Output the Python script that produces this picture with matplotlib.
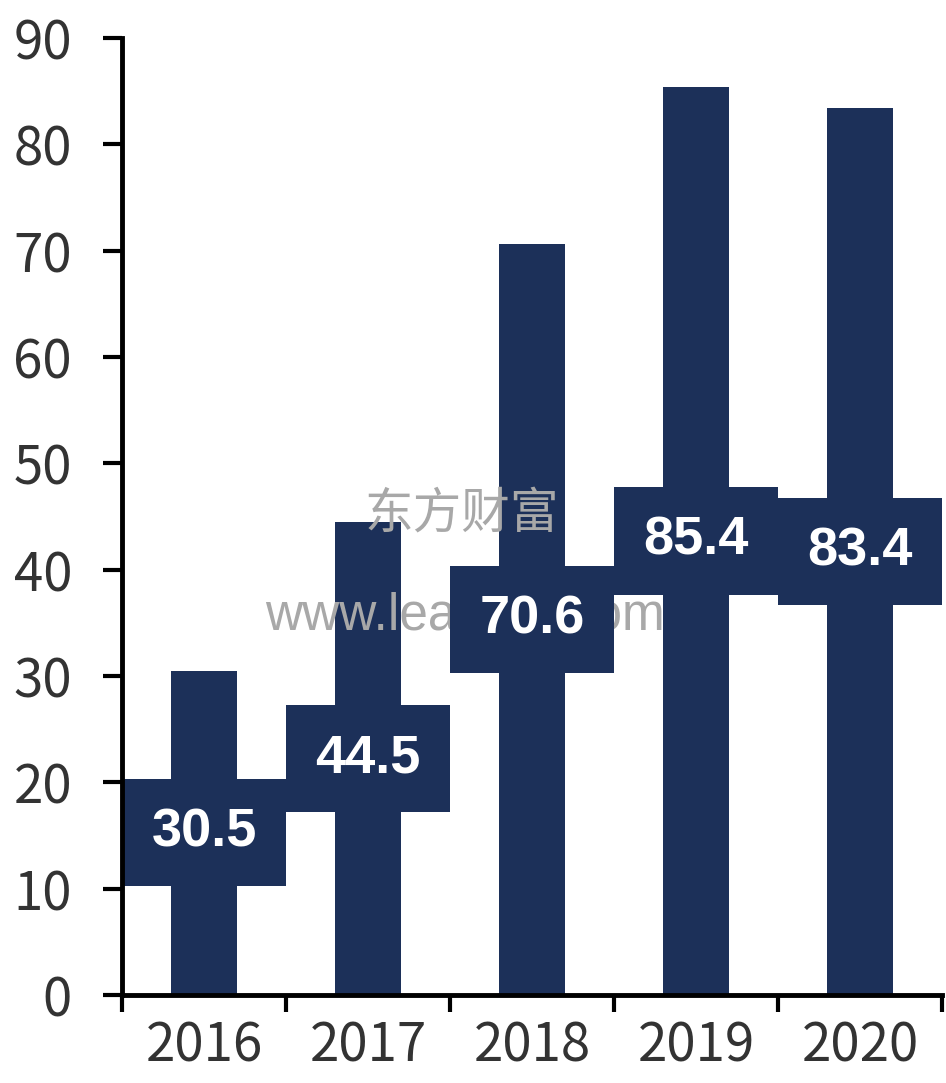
import matplotlib.pyplot as plt

# ========================= Data =========================#
years = ["2016", "2017", "2018", "2019", "2020"]
values = [30.5, 44.5, 70.6, 85.4, 83.4]
y_ticks = [0, 10, 20, 30, 40, 50, 60, 70, 80, 90]

navy = "#1c3059"
box_h = 10.1  # label box height in data units

# ========================= Figure =========================#
fig = plt.figure(figsize=(9.46, 10.83), dpi=100)
ax = fig.add_axes([0.129, 0.0813, 0.867, 0.8836])

x = list(range(len(years)))
ax.bar(x, values, width=0.4, color=navy, zorder=2)

# label boxes spanning the category, centred at half bar height
ax.bar(x, [box_h] * len(x), bottom=[v / 2 - box_h / 2 for v in values],
       width=1.0, color=navy, zorder=4, clip_on=False)
for xi, v in zip(x, values):
    ax.text(xi, v / 2, f"{v:.1f}", ha="center", va="center", color="white",
            fontsize=39, fontweight="bold", family="Liberation Sans", zorder=5)

# watermark (partly hidden behind the label boxes, as in the source)
ax.text(1.57, 45.3, "东方财富", ha="center", va="center", color="#a8a8a8",
        fontsize=35, family="Noto Sans CJK SC", zorder=3)
ax.text(1.59, 35.6, "www.leadleo.com", ha="center", va="center", color="#a8a8a8",
        fontsize=37, family="Liberation Sans", zorder=3)

ax.set_xlim(-0.5, 4.5)
ax.set_ylim(0, 90)
ax.set_yticks(y_ticks)
ax.set_yticklabels([str(t) for t in y_ticks])

# category boundaries as x tick marks, labels centred between them
ax.set_xticks([i - 0.5 for i in range(len(years) + 1)])
ax.set_xticklabels([])
ax.set_xticks(x, minor=True)
ax.set_xticklabels(years, minor=True)
ax.tick_params(axis="x", which="major", direction="out", length=12, width=3)
ax.tick_params(axis="x", which="minor", length=0, pad=17)
ax.tick_params(axis="y", direction="out", length=14, width=3, pad=22)

for lab in ax.get_xticklabels(minor=True) + ax.get_yticklabels():
    lab.set_fontsize(38)
    lab.set_family("Noto Sans CJK SC")
    lab.set_color("#333333")

for s in ["top", "right"]:
    ax.spines[s].set_visible(False)
for s in ["left", "bottom"]:
    ax.spines[s].set_linewidth(3.5)
    ax.spines[s].set_zorder(6)

fig.savefig("out.png", dpi=100, facecolor="white")
